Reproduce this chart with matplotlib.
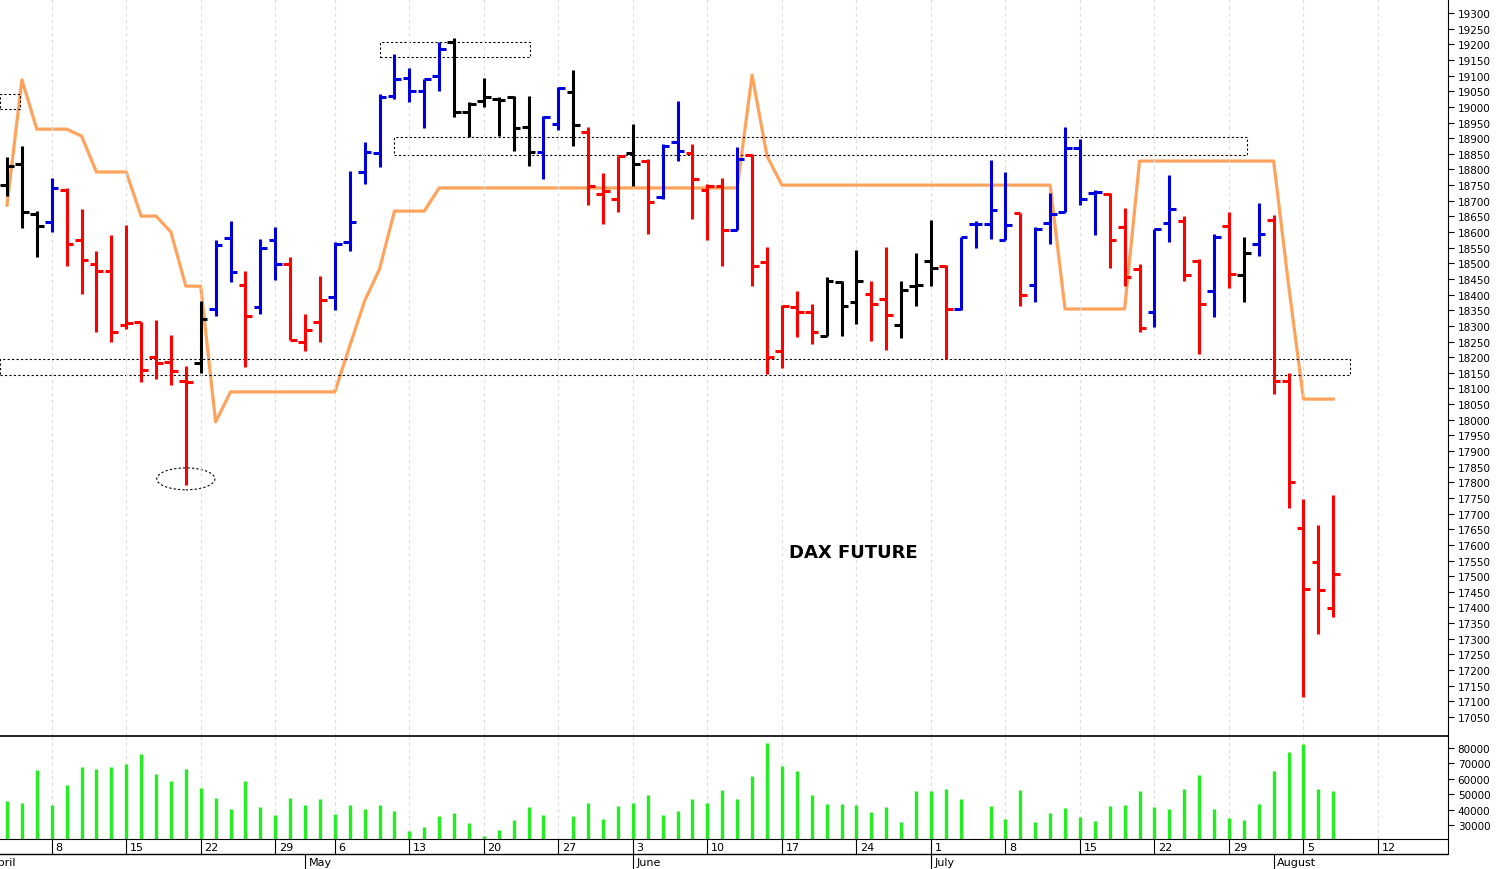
import numpy as np
import matplotlib
matplotlib.use("Agg")
import matplotlib.pyplot as plt
from matplotlib.patches import Rectangle, Ellipse

# ---- data ----
opens = [18750, 18818, 18658, 18631, 18735, 18576, 18498, 18474, 18303, 18312,
         18200, 18184, 18125, 18182, 18354, 18580, 18431, 18360, 18573, 18498,
         18248, 18314, 18391, 18567, 18793, 18853, 19036, 19091, 19052, 19098,
         19206, 18983, 19020, 19025, 19031, 18935, 18855, 18945, 19047, 18919,
         18722, 18706, 18853, 18828, 18711, 18887, 18853, 18736, 18746, 18608,
         18846, 18503, 18221, 18360, 18344, 18269, 18440, 18376, 18402, 18386,
         18303, 18427, 18509, 18493, 18354, 18626, 18626, 18573, 18661, 18430,
         18628, 18665, 18869, 18726, 18722, 18616, 18481, 18344, 18628, 18636,
         18506, 18412, 18619, 18463, 18561, 18640, 18123, 17654, 17546, 17397]
highs = [18839, 18876, 18668, 18772, 18742, 18674, 18538, 18591, 18621, 18314,
         18319, 18271, 18171, 18381, 18576, 18636, 18474, 18578, 18615, 18519,
         18338, 18461, 18567, 18796, 18889, 19041, 19169, 19123, 19089, 19206,
         19219, 19017, 19091, 19031, 19036, 19034, 18970, 19063, 19119, 18935,
         18789, 18842, 18945, 18834, 18882, 19020, 18881, 18754, 18772, 18871,
         18849, 18551, 18367, 18413, 18370, 18455, 18445, 18544, 18442, 18551,
         18445, 18533, 18640, 18495, 18583, 18636, 18829, 18793, 18661, 18616,
         18726, 18937, 18899, 18734, 18726, 18677, 18497, 18610, 18781, 18652,
         18514, 18595, 18664, 18585, 18693, 18656, 18151, 17748, 17662, 17760]
lows = [18716, 18612, 18519, 18601, 18491, 18402, 18282, 18248, 18290, 18122,
        18131, 18111, 17790, 18150, 18333, 18440, 18168, 18338, 18448, 18256,
        18221, 18248, 18352, 18541, 18754, 18807, 19025, 19017, 18932, 19052,
        18967, 18903, 18999, 18906, 18860, 18810, 18770, 18927, 18876, 18685,
        18626, 18665, 18746, 18594, 18706, 18828, 18642, 18573, 18493, 18608,
        18429, 18147, 18165, 18264, 18242, 18267, 18269, 18306, 18253, 18224,
        18261, 18363, 18427, 18195, 18352, 18548, 18579, 18573, 18363, 18375,
        18561, 18665, 18685, 18591, 18485, 18426, 18280, 18295, 18569, 18445,
        18209, 18328, 18420, 18377, 18522, 18082, 17717, 17113, 17314, 17369]
closes = [18812, 18663, 18620, 18740, 18562, 18512, 18474, 18280, 18310, 18160,
          18182, 18157, 18122, 18322, 18559, 18471, 18333, 18548, 18498, 18256,
          18288, 18384, 18562, 18633, 18855, 19031, 19089, 19052, 19089, 19185,
          18985, 19009, 19031, 19023, 18932, 18855, 18967, 19059, 18942, 18748,
          18732, 18842, 18818, 18697, 18876, 18860, 18770, 18746, 18608, 18833,
          18493, 18200, 18365, 18344, 18280, 18445, 18365, 18445, 18370, 18335,
          18416, 18431, 18484, 18354, 18583, 18626, 18671, 18622, 18399, 18610,
          18658, 18869, 18707, 18728, 18575, 18457, 18294, 18610, 18673, 18463,
          18371, 18585, 18465, 18532, 18595, 18123, 17800, 17458, 17455, 17507]
bar_colors = list("kkkb" + "r" * 9 + "kbbrbbrrrb" + "b" * 7 + "k" * 6 + "bbkrrrkrbbrrrbrrrrrkkkrrkkkrbbbbrbbbbbrrrbbrrbrkb" + "r" * 5)
trail = ([18686, 19087, 18929, 18929, 18929, 18907, 18792, 18792, 18792, 18651,
          18651, 18600, 18427, 18427, 17993] + [18089] * 8 + [18236, 18380, 18482]
         + [18667] * 3 + [18741] * 21 + [19102, 18843] + [18750] * 19
         + [18354] * 5 + [18827] * 10 + [18431] + [18066] * 3)
volume = [45746, 43986, 65986, 43326, 56086, 67966, 66646, 67966, 69946, 75886,
          63126, 58726, 66646, 53886, 47726, 40686, 58726, 41786, 36286, 47726,
          43326, 46846, 37386, 43326, 40686, 42886, 39146, 26386, 28586, 35626,
          38046, 31446, 23086, 27046, 32986, 41786, 36286, 21200, 35626, 43986,
          33646, 42226, 43986, 49486, 36286, 39146, 46626, 43986, 52786, 46626,
          61574, 83330, 68456, 64904, 49586, 43370, 43814, 42704, 38486, 41594,
          32270, 51806, 52250, 53582, 46700, 21170, 42260, 33824, 52694, 31826,
          37820, 41150, 34934, 32714, 42038, 42704, 52028, 41594, 40706, 53582,
          62240, 40706, 34490, 33380, 43814, 64904, 77114, 82886, 53360, 51806]

week_idx = [3, 8, 13, 18, 22, 27, 32, 37, 42, 47, 52, 57, 62, 67, 72, 77, 82, 87, 92]
week_labels = ["8", "15", "22", "29", "6", "13", "20", "27", "3", "10", "17", "24",
               "1", "8", "15", "22", "29", "5", "12"]
month_idx = [-1.3, 20, 42, 62, 85]
month_labels = ["April", "May", "June", "July", "August"]

# annotation boxes: (x0, x1, y_low, y_high)
boxes = [(-0.5, 0.87, 18993, 19041), (25.0, 35.1, 19159, 19207),
         (26.0, 83.2, 18846, 18904), (-0.5, 90.1, 18143, 18194)]
circle = (12.0, 17811, 3.9, 70)

n = len(closes)
x = np.arange(n)
W, H = 1497, 870
XL = (-0.47, 96.7)
ax_w = 1448 / W

fig = plt.figure(figsize=(W / 100, H / 100), dpi=100)
ax = fig.add_axes([0, 133 / H, ax_w, 737 / H])
axv = fig.add_axes([0, 30 / H, ax_w, 103 / H], sharex=ax)
axd = fig.add_axes([0, 0, ax_w, 30 / H], sharex=ax)

cmap = {"k": "black", "b": "#0000dd", "r": "#ff0000"}
cols = [cmap[c] for c in bar_colors]
lw = 2.2
ax.vlines(x, lows, highs, colors=cols, lw=lw)
ax.hlines(opens, x - 0.45, x, colors=cols, lw=lw)
ax.hlines(closes, x, x + 0.45, colors=cols, lw=lw)
ax.plot(x, trail, color="#ffa35c", lw=2.3, zorder=1)

for x0, x1, y0, y1 in boxes:
    ax.add_patch(Rectangle((x0, y0), x1 - x0, y1 - y0, fill=False, ls=(0, (2, 2)),
                           lw=0.8, ec="black", clip_on=True))
cx, cy, cw, ch = circle
ax.add_patch(Ellipse((cx, cy), cw, ch, fill=False, ls=(0, (2, 2)), lw=0.8, ec="black"))
ax.text(56.8, 17577, "DAX FUTURE", fontsize=13, fontweight="bold", ha="center", va="center")

ax.set_xlim(*XL)
ax.set_ylim(16989, 19345)
ax.set_yticks(np.arange(17050, 19301, 50))
ax.yaxis.tick_right()
ax.tick_params(axis="y", labelsize=7.5, length=4, pad=3)
ax.tick_params(axis="x", length=0, labelbottom=False)
ax.set_xticks(week_idx)
ax.grid(axis="x", color="#dddddd", ls=(0, (3, 3)), lw=0.8)
for s in ("top", "left", "bottom"):
    ax.spines[s].set_visible(False)

axv.vlines(x, 0, volume, colors="#22ee22", lw=2.4)
axv.set_ylim(20940, 87800)
axv.set_yticks(np.arange(30000, 80001, 10000))
axv.yaxis.tick_right()
axv.tick_params(axis="y", labelsize=7.5, length=4, pad=3)
axv.tick_params(axis="x", length=0, labelbottom=False)
axv.grid(axis="x", color="#dddddd", ls=(0, (3, 3)), lw=0.8)
axv.spines["top"].set_visible(True)
axv.spines["top"].set_color("black")
axv.spines["top"].set_linewidth(1.2)
axv.spines["left"].set_visible(False)

axd.set_ylim(0, 1)
axd.axis("off")
axd.axhline(0.5, color="black", lw=1)
for i, lab in zip(week_idx, week_labels):
    axd.plot([i, i], [0.5, 1], color="black", lw=0.8)
    axd.text(i + 0.25, 0.73, lab, fontsize=8, va="center", ha="left")
for i, lab in zip(month_idx, month_labels):
    axd.plot([i, i], [0, 0.5], color="black", lw=0.8)
    axd.text(i + 0.25, 0.22, lab, fontsize=8, va="center", ha="left", clip_on=True)
axd.plot([XL[1], XL[1]], [0.5, 1], color="black", lw=0.8, clip_on=False)

fig.savefig("out.png", dpi=100)
